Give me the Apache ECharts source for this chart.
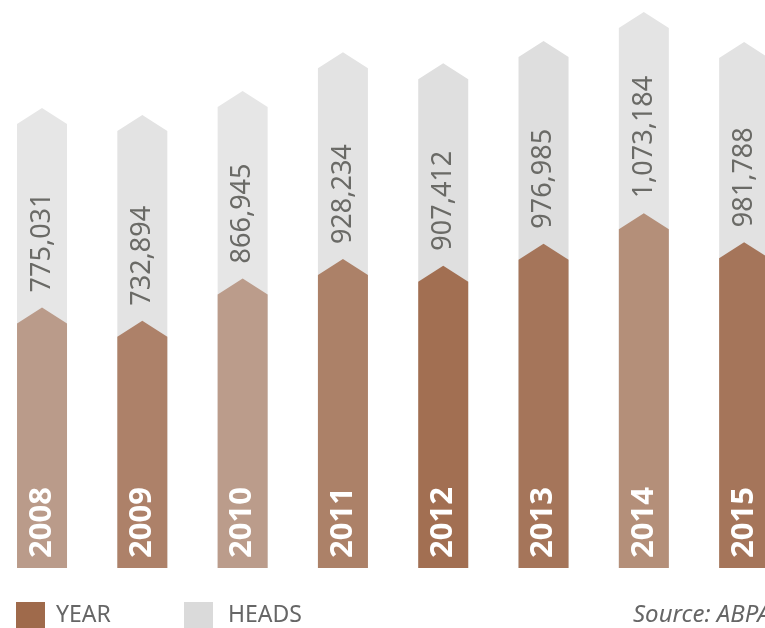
<!DOCTYPE html>
<html>
<head>
<meta charset="utf-8">
<script src="https://cdn.jsdelivr.net/npm/echarts@6/dist/echarts.min.js"></script>
<style>
  html, body { margin: 0; padding: 0; background: #fff; }
  #chart { width: 765px; height: 628px; }
</style>
</head>
<body>
<div id="chart"></div>
<script>
// data
const years = ['2008', '2009', '2010', '2011', '2012', '2013', '2014', '2015']
const heads = [775031, 732894, 866945, 928234, 907412, 976985, 1073184, 981788]
// top of the grey column (label band)
const greyTops = [1407000, 1385000, 1461000, 1584000, 1549000, 1619000, 1711000, 1616000]

// per-column shades
const brownShades = ['#ba9b8a', '#ad8169', '#bb9c8b', '#ac8168', '#a26f52', '#a5755a', '#b48f79', '#a5755a']
const greyShades = ['#e6e6e6', '#e3e3e3', '#e6e6e6', '#e3e3e3', '#dfdfdf', '#dedede', '#e4e4e4', '#e2e2e2']

const fmt = v => v.toLocaleString('en-US')
const HALF = 25   // half column width
const PEAK = 16   // height of the pointed top

const chart = echarts.init(document.getElementById('chart'))

function arrowShape(x, yTop, yBase) {
    return [
        [x - HALF, yBase], [x - HALF, yTop], [x, yTop - PEAK],
        [x + HALF, yTop], [x + HALF, yBase]
    ]
}

const option = {
    animation: false,
    grid: { left: 0, right: 0, top: -1, bottom: 60 },
    // column index axis; the last column runs off the right edge
    xAxis: {
        type: 'value',
        min: -0.419,
        max: 7.208,
        show: false
    },
    yAxis: {
        type: 'value',
        min: 0,
        max: 1800000,
        show: false
    },
    legend: [{
        data: ['YEAR'],
        left: 16, top: 602,
        padding: 0,
        itemWidth: 29, itemHeight: 26,
        icon: 'rect',
        selectedMode: false,
        textStyle: { fontFamily: 'Noto Sans', fontSize: 23, color: '#666', padding: [0, 0, 0, 6] }
    }, {
        data: ['HEADS'],
        left: 184, top: 602,
        padding: 0,
        itemWidth: 29, itemHeight: 26,
        icon: 'rect',
        selectedMode: false,
        textStyle: { fontFamily: 'Noto Sans', fontSize: 23, color: '#666', padding: [0, 0, 0, 10] }
    }],
    graphic: [{
        type: 'text',
        x: 633, y: 615,
        style: {
            text: 'Source: ABPA',
            font: 'italic 24px "Noto Sans"',
            fill: '#666',
            verticalAlign: 'middle'
        }
    }],
    series: [{
        name: 'HEADS',
        type: 'custom',
        itemStyle: { color: '#dadada' },
        data: greyTops.map((v, i) => [i, v]),
        renderItem: (params, api) => {
            const i = api.value(0)
            const top = api.coord([i, api.value(1)])
            const base = api.coord([i, 0])
            return {
                type: 'polygon',
                shape: { points: arrowShape(top[0], top[1], base[1]) },
                style: { fill: greyShades[i] }
            }
        }
    }, {
        name: 'YEAR',
        type: 'custom',
        itemStyle: { color: '#9f6a4b' },
        data: heads.map((v, i) => [i, v]),
        renderItem: (params, api) => {
            const i = api.value(0)
            const top = api.coord([i, api.value(1)])
            const base = api.coord([i, 0])
            return {
                type: 'group',
                children: [{
                    type: 'polygon',
                    shape: { points: arrowShape(top[0], top[1], base[1]) },
                    style: { fill: brownShades[i] }
                }, {
                    type: 'text',
                    x: top[0], y: base[1] - 10,
                    rotation: Math.PI / 2,
                    style: {
                        text: years[i],
                        font: 'bold 31px "Noto Sans"',
                        fill: '#fff',
                        align: 'left',
                        verticalAlign: 'middle'
                    }
                }, {
                    type: 'text',
                    x: top[0], y: top[1] - 31,
                    rotation: Math.PI / 2,
                    style: {
                        text: fmt(heads[i]),
                        font: '27px "Noto Sans"',
                        fill: '#6a6a66',
                        align: 'left',
                        verticalAlign: 'middle'
                    }
                }]
            }
        }
    }]
}

chart.setOption(option)
</script>
</body>
</html>
